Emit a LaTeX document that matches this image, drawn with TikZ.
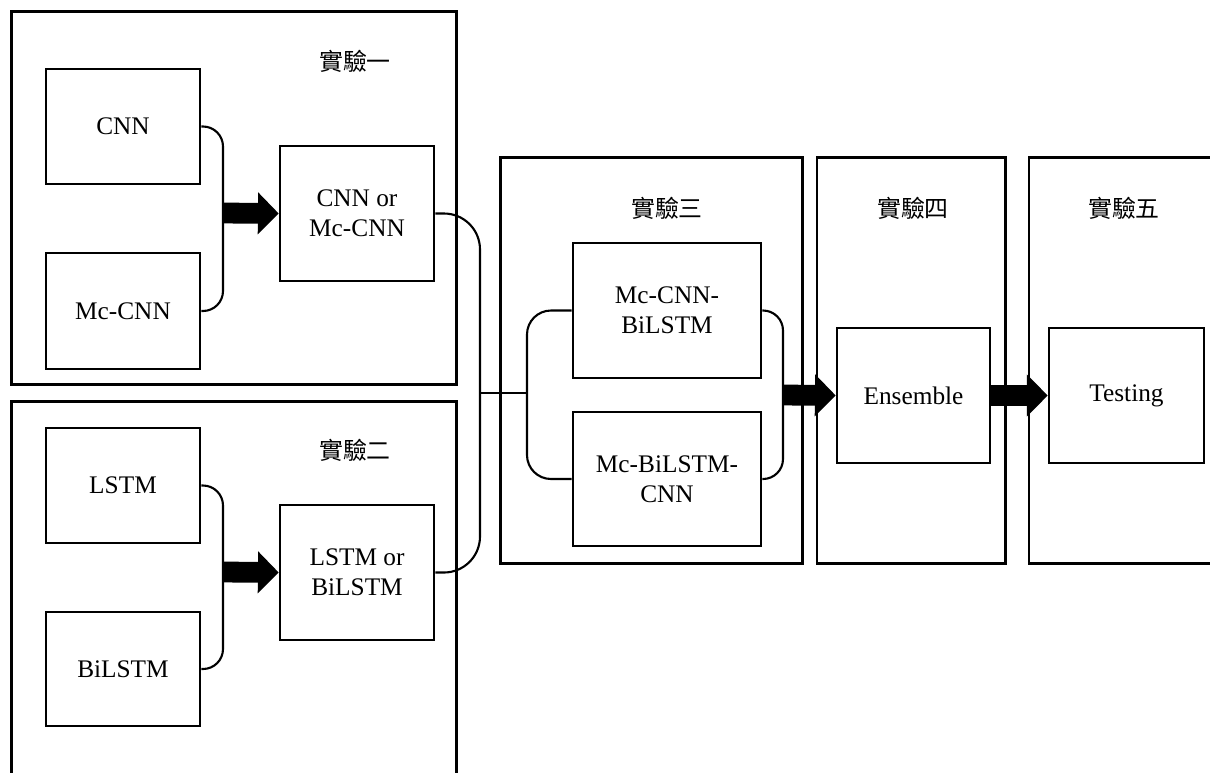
\documentclass[tikz,border=0pt]{standalone}
\usepackage{fontspec}
\setmainfont{Liberation Serif}
\newfontfamily\cjkfont{Noto Sans CJK TC}
\usetikzlibrary{arrows.meta}

\begin{document}
\begin{tikzpicture}[x=0.025cm, y=-0.025cm,
    stage/.style={draw, line width=2.1pt, inner sep=0pt},
    model/.style={draw, line width=1.8pt, align=center, inner sep=2pt,
      font=\fontsize{18}{21.6}\selectfont},
    tag/.style={font=\cjkfont\fontsize{17}{20}\selectfont},
    link/.style={line width=1.5pt},
    fatarrow/.style={line width=0.52cm, -{Triangle[length=0.52cm, width=1.02cm]}}]
  \useasboundingbox (0,0) rectangle (1210,772);
  \clip (0,0) rectangle (1210,772);

  % experiment frames
  \node[stage, minimum width=11.1cm, minimum height=9.3cm] (exp1) at (234,198) {};
  \node[stage, minimum width=11.1cm, minimum height=9.95cm] (exp2) at (234,601) {};
  \node[stage, minimum width=7.525cm, minimum height=10.125cm] (exp3) at (651.5,360.5) {};
  \node[stage, minimum width=4.7cm, minimum height=10.125cm] (exp4) at (911,360.5) {};
  \node[stage, minimum width=5.275cm, minimum height=10.125cm] (exp5) at (1134.5,360.5) {};

  \node[tag] (tag1) at (355,61) {實驗一};
  \node[tag] (tag2) at (355,450) {實驗二};
  \node[tag] (tag3) at (667,208) {實驗三};
  \node[tag] (tag4) at (913,208) {實驗四};
  \node[tag] (tag5) at (1124,208) {實驗五};

  % models
  \node[model, minimum width=3.85cm, minimum height=2.875cm] (cnn) at (123,126.5) {CNN};
  \node[model, minimum width=3.85cm, minimum height=2.9cm] (mccnn) at (123,311) {Mc-CNN};
  \node[model, minimum width=3.85cm, minimum height=3.375cm] (cnnor) at (357,213.5) {CNN or\\Mc-CNN};
  \node[model, minimum width=3.85cm, minimum height=2.875cm] (lstm) at (123,485.5) {LSTM};
  \node[model, minimum width=3.85cm, minimum height=2.85cm] (bilstm) at (123,669) {BiLSTM};
  \node[model, minimum width=3.85cm, minimum height=3.375cm] (lstmor) at (357,572.5) {LSTM or\\BiLSTM};
  \node[model, minimum width=4.7cm, minimum height=3.375cm] (cb) at (667,310.5) {Mc-CNN-\\BiLSTM};
  \node[model, minimum width=4.7cm, minimum height=3.35cm] (bc) at (667,479) {Mc-BiLSTM-\\CNN};
  \node[model, minimum width=3.825cm, minimum height=3.375cm] (ens) at (913.5,395.5) {Ensemble};
  \node[model, minimum width=3.875cm, minimum height=3.375cm] (test) at (1126.5,395.5) {Testing};

  % joins
  \coordinate (j1) at (223,213);
  \coordinate (j2) at (480,393);
  \coordinate (j3) at (527,393);
  \coordinate (j4) at (783,395);
  \coordinate (j5) at (223,572);

  \draw[link, rounded corners=0.5cm] (cnn.east) -| (j1) |- (mccnn.east);
  \draw[fatarrow] (j1) -- (cnnor.west);
  \draw[link, rounded corners=0.5cm] (lstm.east) -| (j5) |- (bilstm.east);
  \draw[fatarrow] (j5) -- (lstmor.west);

  \draw[link, rounded corners=0.9cm] (cnnor.east) -| (j2) |- (lstmor.east);
  \draw[link] (j2) -- (j3);
  \draw[link, rounded corners=0.6cm] (cb.west) -| (j3) |- (bc.west);
  \draw[link, rounded corners=0.5cm] (cb.east) -| (j4) |- (bc.east);

  \draw[fatarrow] (j4) -- (ens.west);
  \draw[fatarrow] (ens.east) -- (test.west);
\end{tikzpicture}
\end{document}
